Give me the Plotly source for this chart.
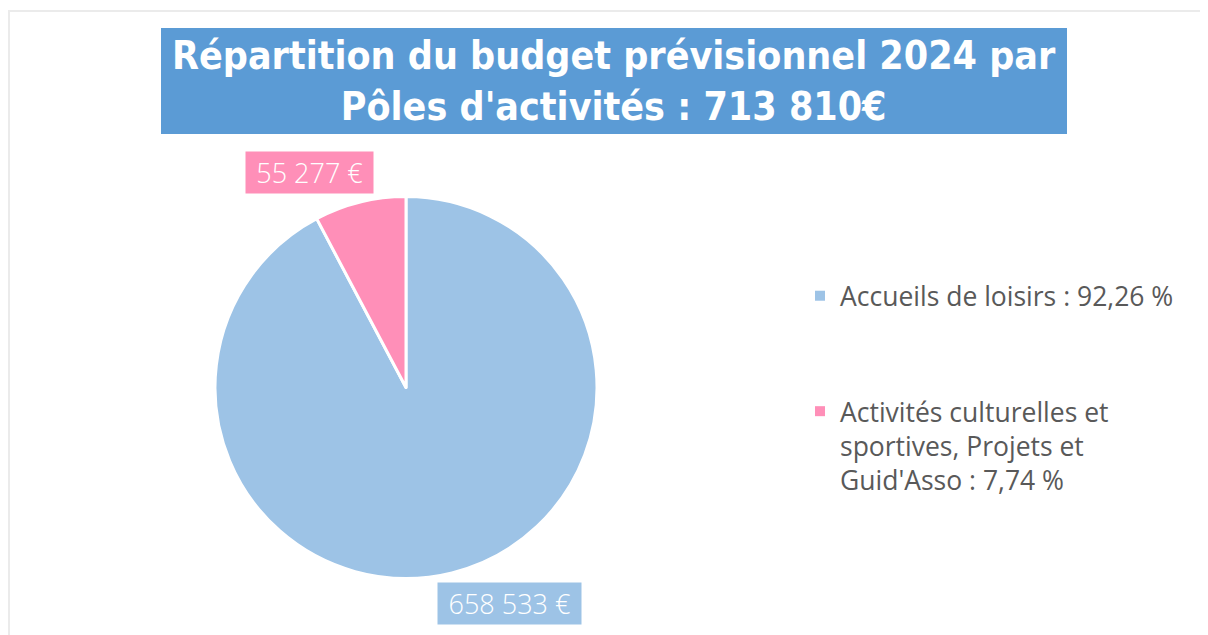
import plotly.graph_objects as go

categories = ["Accueils de loisirs : 92,26 %",
              "Activités culturelles et<br>sportives, Projets et<br>Guid'Asso : 7,74 %"]
values = [658533, 55277]
value_labels = ["658 533 €", "55 277 €"]
colors = ["#9DC3E6", "#FF8FB8"]
title_text = "Répartition du budget prévisionnel 2024 par<br>Pôles d'activités : 713 810€"

W, H = 1208, 635

fig = go.Figure()
fig.add_trace(go.Pie(
    labels=categories,
    values=values,
    sort=False,
    direction="clockwise",
    rotation=0,
    marker=dict(colors=colors, line=dict(color="white", width=3)),
    textinfo="none",
    hoverinfo="label+value",
    showlegend=False,
    domain=dict(x=[207 / W, 589 / W], y=[(H - 571) / H, (H - 188) / H]),
))

# legend entries (one per category)
for i, (cat, col) in enumerate(zip(categories, colors)):
    fig.add_trace(go.Scatter(
        x=[None], y=[None], mode="markers", name=cat,
        legendgroup=f"g{i}",
        marker=dict(symbol="square", size=10, color=col),
        hoverinfo="skip",
    ))

label_font = dict(family="Open Sans", size=27, color="white", weight=300)
# value labels
fig.add_annotation(x=301.5 / W, y=(H - 164.5) / H, xref="paper", yref="paper",
                   text=value_labels[1], showarrow=False, bgcolor=colors[1],
                   font=label_font, borderpad=0, width=127, height=41,
                   xanchor="center", yanchor="middle")
fig.add_annotation(x=501.5 / W, y=(H - 595.5) / H, xref="paper", yref="paper",
                   text=value_labels[0], showarrow=False, bgcolor=colors[0],
                   font=label_font, borderpad=0, width=143, height=41,
                   xanchor="center", yanchor="middle")

# title box
fig.add_shape(type="rect", xref="paper", yref="paper",
              x0=153 / W, x1=1059 / W, y0=(H - 126) / H, y1=(H - 20) / H,
              line=dict(width=0), fillcolor="#5B9BD5", layer="below")
fig.add_annotation(x=606 / W, y=(H - 73) / H, xref="paper", yref="paper",
                   text="<b>" + title_text + "</b>", showarrow=False,
                   font=dict(family="DejaVu Sans Condensed", size=39, color="white"),
                   xanchor="center", yanchor="middle")

# frame
fig.add_shape(type="rect", xref="paper", yref="paper",
              x0=1 / W, x1=1.05, y0=-0.05, y1=(H - 3) / H,
              line=dict(color="#EBEBEB", width=2), fillcolor="rgba(0,0,0,0)")

fig.update_layout(
    width=W, height=H,
    margin=dict(l=0, r=0, t=0, b=0),
    paper_bgcolor="white",
    plot_bgcolor="white",
    xaxis=dict(visible=False),
    yaxis=dict(visible=False),
    showlegend=True,
    legend=dict(x=792 / W, y=(H - 264) / H, xanchor="left", yanchor="top",
                valign="top", tracegroupgap=78,
                font=dict(family="Open Sans", size=26.5, color="#595959", weight=400),
                itemclick=False, bgcolor="rgba(0,0,0,0)"),
)

fig.write_html("out.html")
